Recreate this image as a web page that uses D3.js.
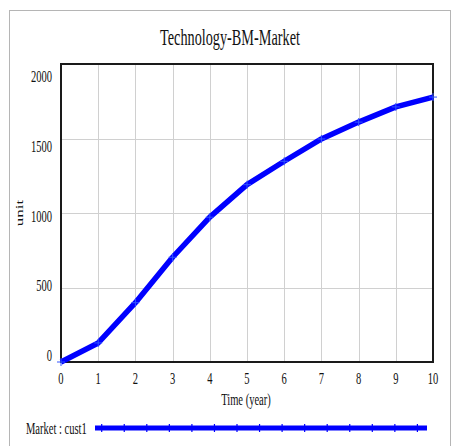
<!DOCTYPE html>
<html>
<head>
<meta charset="utf-8">
<script src="https://cdn.jsdelivr.net/npm/d3@7"></script>
<style>
  body { margin: 0; background: #fff; }
  svg text { font-family: "Liberation Serif", "Times New Roman", serif; fill: #111; }
</style>
</head>
<body>
<svg id="chart" width="454" height="446"></svg>
<script>
const years = [0, 1, 2, 3, 4, 5, 6, 7, 8, 9, 10];
const cust1 = [0, 128, 398, 703, 972, 1190, 1347, 1497, 1610, 1712, 1778];
const yTicks = [0, 500, 1000, 1500, 2000];
const title = 'Technology-BM-Market';
const seriesLabel = 'Market : cust1';

const svg = d3.select('#chart');
const sx = 0.62; // the picture's text is narrow

const x = d3.scaleLinear().domain([0, 10]).range([61, 433]);
const y = d3.scaleLinear().domain([0, 2000]).range([362, 64]);
// tick labels sit evenly spread, a bit inside the gridlines
const yLab = d3.scaleLinear().domain([0, 2000]).range([355, 76]);

// outer frame
svg.append('rect')
    .attr('x', 9.5).attr('y', 10.5)
    .attr('width', 441).attr('height', 460)
    .attr('fill', 'none').attr('stroke', '#b5b5b5');

// title
svg.append('text')
    .attr('transform', `translate(230,45) scale(${sx},1)`)
    .attr('text-anchor', 'middle')
    .style('font-size', '23px')
    .text(title);

// grid
const grid = svg.append('g').attr('stroke', '#d0d0d0').attr('stroke-width', 1);
grid.selectAll('.gx').data(years.slice(1, -1)).enter().append('line')
    .attr('x1', d => Math.round(x(d)) + 0.5).attr('x2', d => Math.round(x(d)) + 0.5)
    .attr('y1', y(2000)).attr('y2', y(0));
grid.selectAll('.gy').data(yTicks.slice(1, -1)).enter().append('line')
    .attr('x1', x(0)).attr('x2', x(10))
    .attr('y1', d => Math.round(y(d)) + 0.5).attr('y2', d => Math.round(y(d)) + 0.5);

// plot border
svg.append('rect')
    .attr('x', x(0)).attr('y', y(2000))
    .attr('width', x(10) - x(0)).attr('height', y(0) - y(2000))
    .attr('fill', 'none').attr('stroke', '#1a1a1a').attr('stroke-width', 2);

// x tick labels
svg.selectAll('.xl').data(years).enter().append('text')
    .attr('transform', d => `translate(${x(d)},384) scale(${sx},1)`)
    .attr('text-anchor', 'middle')
    .style('font-size', '17px')
    .text(d => d);

// y tick labels
svg.selectAll('.yl').data(yTicks).enter().append('text')
    .attr('transform', d => `translate(52,${yLab(d) + 6}) scale(${sx},1)`)
    .attr('text-anchor', 'end')
    .style('font-size', '17px')
    .text(d => d);

// axis titles
svg.append('text')
    .attr('transform', `translate(246,405) scale(${sx},1)`)
    .attr('text-anchor', 'middle')
    .style('font-size', '17px')
    .text('Time (year)');

svg.append('text')
    .attr('transform', `translate(23,213) rotate(-90) scale(1,${sx})`)
    .attr('text-anchor', 'middle')
    .style('font-size', '17px')
    .text('unit');

// series line
const line = d3.line().x((d, i) => x(years[i])).y(d => y(d));
svg.append('path')
    .datum(cust1)
    .attr('d', line)
    .attr('fill', 'none')
    .attr('stroke', '#0000ff')
    .attr('stroke-width', 5.5)
    .attr('stroke-linejoin', 'round');

svg.selectAll('.mk').data(cust1).enter().append('path')
    .attr('d', (d, i) => {
        const px = x(years[i]), py = y(d);
        return `M${px - 4},${py}H${px + 4}M${px},${py - 4}V${py + 4}`;
    })
    .attr('stroke', '#3355ff').attr('stroke-width', 1);

// legend
svg.append('text')
    .attr('transform', `translate(26,434) scale(${sx},1)`)
    .style('font-size', '17px')
    .text(seriesLabel);

const lx0 = 95, lx1 = 427, ly = 428;
svg.append('line')
    .attr('x1', lx0).attr('x2', lx1).attr('y1', ly).attr('y2', ly)
    .attr('stroke', '#0000ff').attr('stroke-width', 5);
svg.selectAll('.lt').data(d3.range(15)).enter().append('line')
    .attr('x1', d => 101.7 + d * 22.55).attr('x2', d => 101.7 + d * 22.55)
    .attr('y1', ly - 4).attr('y2', ly + 4)
    .attr('stroke', '#0000ff').attr('stroke-width', 1.2);
</script>
</body>
</html>
